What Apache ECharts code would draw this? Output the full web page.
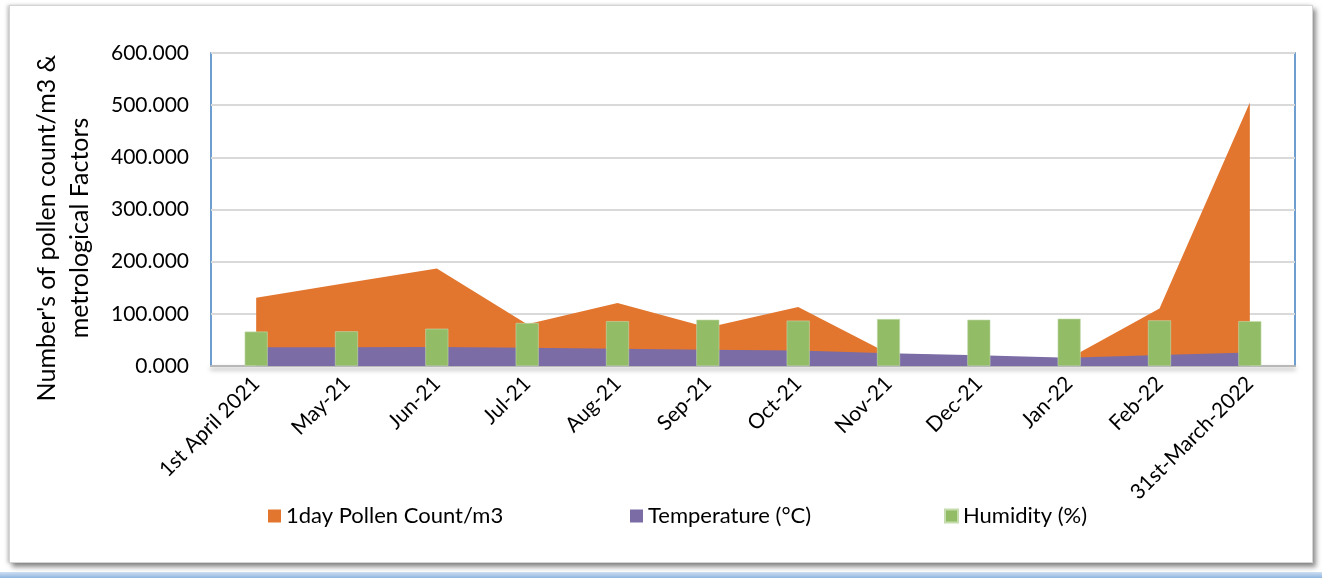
<!DOCTYPE html>
<html>
<head>
<meta charset="utf-8">
<script src="https://cdn.jsdelivr.net/npm/echarts@6/dist/echarts.min.js"></script>
<style>
  html, body { margin: 0; padding: 0; width: 1322px; height: 578px; background: #ffffff; overflow: hidden; }
  #edge { position: absolute; left: 0; top: 572px; width: 1322px; height: 6px; background: linear-gradient(#cfe0f2, #8fb6e0); }
  #frame { position: absolute; left: 9px; top: 5px; width: 1302px; height: 556px; background: #fff;
           border: 1px solid #d4d4d4; box-shadow: 3px 4px 5px rgba(90,90,90,0.7), -2px 0 3px rgba(160,160,160,0.5); }
  #chart { position: absolute; left: 0; top: 0; width: 1322px; height: 578px; }
</style>
</head>
<body>
<div id="edge"></div>
<div id="frame"></div>
<div id="chart"></div>
<script>
const categories = ['1st April 2021','May-21','Jun-21','Jul-21','Aug-21','Sep-21','Oct-21','Nov-21','Dec-21','Jan-22','Feb-22','31st-March-2022'];
const pollenCount = [131, 159, 187, 80, 121, 74, 113, 24, 18, 15, 110, 505];
const temperature = [36, 36, 36.4, 35, 33, 31, 29.5, 24.5, 20.5, 16, 21, 26];
const humidity = [66, 66.5, 71.5, 82.5, 86, 88.8, 87, 90, 88.8, 90.7, 87.5, 86];
const yTicks = [0, 100, 200, 300, 400, 500, 600];
const yTitle = "Number's of pollen count/m3 &\nmetrological Factors";

const FONT = 'Lato';
const chart = echarts.init(document.getElementById('chart'), null, { renderer: 'canvas' });
const legendText = { fontFamily: FONT, fontSize: 22, color: '#000' };
chart.setOption({
  backgroundColor: 'transparent',
  animation: false,
  grid: {
    left: 211, right: 27, top: 53, bottom: 212,
    show: true, backgroundColor: '#fff', borderWidth: 1.5,
    borderColor: new echarts.graphic.LinearGradient(0, 0, 1, 0, [
      { offset: 0, color: '#3e7dc0' }, { offset: 0.5, color: '#dde8f4' }, { offset: 1, color: '#3e7dc0' }
    ])
  },
  graphic: [{
    type: 'text', x: 63, y: 228, rotation: Math.PI / 2,
    style: { text: yTitle, fontFamily: FONT, fontSize: 25, lineHeight: 33, fill: '#000', align: 'center', verticalAlign: 'middle' }
  }],
  legend: [
    { data: ['1day Pollen Count/m3'], left: 263, top: 500, itemWidth: 13, itemHeight: 13, icon: 'rect', textStyle: legendText },
    { data: ['Temperature (°C)'], left: 625, top: 500, itemWidth: 13, itemHeight: 13, icon: 'rect', textStyle: legendText },
    { data: ['Humidity (%)'], left: 939, top: 500, itemWidth: 13, itemHeight: 13, icon: 'rect', textStyle: legendText }
  ],
  xAxis: {
    type: 'category',
    data: categories,
    boundaryGap: true,
    axisLine: { show: true, lineStyle: { color: '#b8b8b8', width: 2, shadowColor: 'rgba(0,0,0,0.35)', shadowBlur: 4, shadowOffsetY: 3 } },
    axisTick: { show: false },
    axisLabel: { rotate: 45, margin: 14, fontFamily: FONT, fontSize: 21, color: '#000', interval: 0 }
  },
  yAxis: {
    type: 'value',
    min: yTicks[0], max: yTicks[yTicks.length - 1], interval: 100,
    axisLine: { show: false },
    axisTick: { show: false },
    splitLine: { lineStyle: { color: '#d9d9d9', width: 2 } },
    axisLabel: { fontFamily: FONT, fontSize: 21, color: '#000', margin: 22, formatter: v => v.toFixed(3) }
  },
  series: [
    {
      name: '1day Pollen Count/m3', type: 'line', data: pollenCount,
      showSymbol: false, lineStyle: { width: 0 },
      itemStyle: { color: '#e2762f' },
      areaStyle: { color: '#e2762f', opacity: 1 }, z: 2
    },
    {
      name: 'Temperature (°C)', type: 'line', data: temperature,
      showSymbol: false, lineStyle: { width: 0 },
      itemStyle: { color: '#7b6ca6' },
      areaStyle: { color: '#7b6ca6', opacity: 1 }, z: 3
    },
    {
      name: 'Humidity (%)', type: 'bar', data: humidity,
      barWidth: 23, itemStyle: { color: '#92bc66', borderColor: '#c5dcae', borderWidth: 0.6 }, z: 4
    }
  ]
});
</script>
</body>
</html>
